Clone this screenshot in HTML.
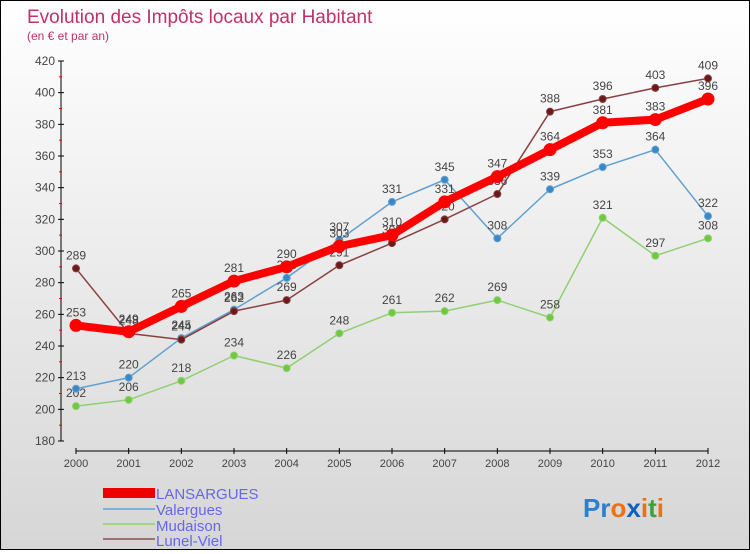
<!DOCTYPE html>
<html><head><meta charset="utf-8"><style>
body{margin:0;width:750px;height:550px;overflow:hidden}
#c{width:748px;height:548px;border:1px solid #000;background:linear-gradient(#ffffff,#d6d6d6);position:relative}
text{font-family:"Liberation Sans","DejaVu Sans",sans-serif}
</style></head><body>
<div id="c">
<svg id="s" width="748" height="548" xmlns="http://www.w3.org/2000/svg">
<text x="26" y="22" font-size="19" fill="#c0306a">Evolution des Impôts locaux par Habitant</text>
<text x="26" y="39" font-size="12" fill="#c0306a">(en € et par an)</text>
<g id="axes"></g><g id="series"></g>
<g>
<rect x="102" y="487" width="52" height="10" fill="#e00"/>
<text x="155" y="498" font-size="15" fill="#6666ee">LANSARGUES</text>
<rect x="102" y="507" width="52" height="2" fill="#80b0d8"/>
<text x="155" y="514" font-size="15" fill="#6666ee">Valergues</text>
<rect x="102" y="522" width="52" height="2" fill="#a0d880"/>
<text x="155" y="530" font-size="15" fill="#6666ee">Mudaison</text>
<rect x="102" y="537" width="52" height="2" fill="#a07070"/>
<text x="155" y="545" font-size="15" fill="#6666ee">Lunel-Viel</text>
</g>
<text x="582" y="516" font-size="26" font-weight="bold"><tspan fill="#2a80d0">P</tspan><tspan fill="#2a80d0">r</tspan><tspan fill="#f07010">o</tspan><tspan fill="#1060c0">x</tspan><tspan fill="#f07010">i</tspan><tspan fill="#40a040">t</tspan><tspan fill="#f07010">i</tspan></text>
</svg></div>
<script>
const years=[2000,2001,2002,2003,2004,2005,2006,2007,2008,2009,2010,2011,2012];
const yTicks=[180,200,220,240,260,280,300,320,340,360,380,400,420];
const lansargues=[253,249,265,281,290,303,310,331,347,364,381,383,396];
const valergues=[213,220,245,263,283,307,331,345,308,339,353,364,322];
const mudaison=[202,206,218,234,226,248,261,262,269,258,321,297,308];
const lunelViel=[289,248,244,262,269,291,305,320,336,388,396,403,409];
const NS="http://www.w3.org/2000/svg";
const X=i=>75+i*(707-75)/12;
const Y=v=>440-(v-180)*380/240;
function mk(t,a,p){const e=document.createElementNS(NS,t);for(const k in a)e.setAttribute(k,a[k]);p.appendChild(e);return e;}
const ax=document.getElementById('axes');
const ya=mk('line',{x1:60,y1:60,x2:60,y2:440,stroke:'#000'},ax);


const xa=mk('line',{x1:75,y1:450,x2:707,y2:450,stroke:'#000'},ax);


yTicks.forEach((v,i)=>{
 mk('line',{x1:57,y1:Y(v),x2:63,y2:Y(v),stroke:'#000'},ax);
 if(i<yTicks.length-1) mk('line',{x1:58,y1:Y(v+10),x2:61,y2:Y(v+10),stroke:'#f00'},ax);
 const t=mk('text',{x:54,y:Y(v)+4,'font-size':12,fill:'#444','text-anchor':'end'},ax);t.textContent=v;
 
 
});
years.forEach((y,i)=>{
 mk('line',{x1:X(i),y1:447,x2:X(i),y2:453,stroke:'#000'},ax);
 const t=mk('text',{x:X(i),y:466,'font-size':11,fill:'#444','text-anchor':'middle'},ax);t.textContent=y;
 
 
});
const sg=document.getElementById('series');
function series(vals,name,color,w,r,fill){
 const g=mk('g',{},sg);
 
 
 mk('polyline',{points:vals.map((v,i)=>X(i)+','+Y(v)).join(' '),fill:'none',stroke:color,'stroke-width':w,'stroke-linejoin':'round'},g);
 vals.forEach((v,i)=>{
  const c=mk('circle',{cx:X(i),cy:Y(v),r:r,fill:fill,stroke:color,'stroke-width':1},g);
  
  
  const t=mk('text',{x:X(i),y:Y(v)-9,'font-size':12,fill:'#444','text-anchor':'middle'},g);t.textContent=v;
  
  
 });
}
series(mudaison,'mudaison','#90d070',1.5,3.5,'#70c840');
series(valergues,'valergues','#60a0d0',1.5,3.5,'#3a88c8');
series(lunelViel,'lunel-viel','#8a4040',1.5,3.5,'#6a1a1a');
series(lansargues,'lansargues','#f00',8,6,'#f00');
</script></body></html>
